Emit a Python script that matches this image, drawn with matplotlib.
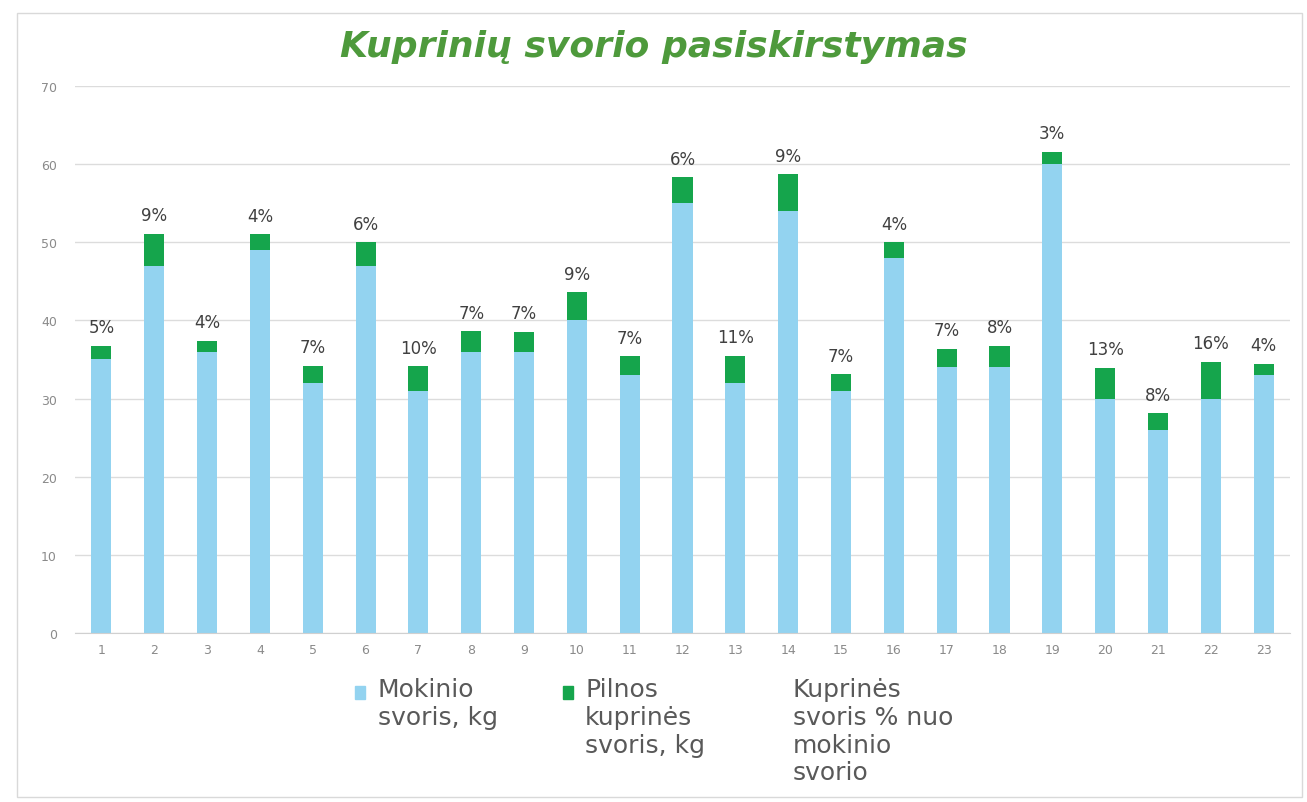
import matplotlib.pyplot as plt
from matplotlib.patches import Patch, Rectangle
from matplotlib.legend_handler import HandlerPatch

mokiniai = [str(i) for i in range(1, 24)]
mokinio_svoris = [35, 47, 36, 49, 32, 47, 31, 36, 36, 40, 33, 55, 32, 54, 31, 48, 34, 34, 60, 30, 26, 30, 33]
kuprines_svoris = [1.75, 4.1, 1.4, 2.0, 2.2, 3.0, 3.1, 2.6, 2.5, 3.6, 2.4, 3.3, 3.5, 4.7, 2.1, 2.0, 2.4, 2.7, 1.6, 3.9, 2.1, 4.7, 1.4]
procentai = ["5%", "9%", "4%", "4%", "7%", "6%", "10%", "7%", "7%", "9%", "7%", "6%", "11%",
             "9%", "7%", "4%", "7%", "8%", "3%", "13%", "8%", "16%", "4%"]

melyna = "#93d3f0"
zalia = "#15a54c"

fig = plt.figure(figsize=(13.07, 8.03), dpi=100)
ax = fig.add_axes([0.0574, 0.2105, 0.9296, 0.6812])

x = range(len(mokiniai))
ax.bar(x, mokinio_svoris, width=0.38, color=melyna, zorder=2)
ax.bar(x, kuprines_svoris, width=0.38, bottom=mokinio_svoris, color=zalia, zorder=2)

for i in x:
    ax.annotate(procentai[i], (i, mokinio_svoris[i] + kuprines_svoris[i]),
                xytext=(0, 7), textcoords="offset points", ha="center", va="bottom",
                fontsize=12, color="#404040")

ax.set_xlim(-0.5, len(mokiniai) - 0.5)
ax.set_ylim(0, 70)
ax.set_yticks(range(0, 71, 10))
ax.set_xticks(list(x))
ax.set_xticklabels(mokiniai)
ax.grid(axis="y", color="#dcdcdc", linewidth=1, zorder=0)
for s in ["top", "right", "left"]:
    ax.spines[s].set_visible(False)
ax.spines["bottom"].set_color("#d0d0d0")
ax.tick_params(axis="y", length=0, pad=13, labelsize=9, labelcolor="#8a8a8a")
ax.tick_params(axis="x", length=0, pad=7, labelsize=9, labelcolor="#8a8a8a")

fig.text(0.5, 0.9415, "Kuprinių svorio pasiskirstymas", ha="center", va="center",
         fontsize=26, fontweight="bold", fontstyle="italic", color="#4e9a3c")


# legendos kvadratelis prie pirmos teksto eilutes
def kvadratas(legend, orig_handle, xdescent, ydescent, width, height, fontsize):
    return Rectangle((-xdescent, -ydescent + 28), width, height)


handles = [Patch(color=melyna), Patch(color=zalia), Patch(color="none")]
labels = ["Mokinio\nsvoris, kg\n\n", "Pilnos\nkuprinės\nsvoris, kg\n",
          "Kuprinės\nsvoris % nuo\nmokinio\nsvorio"]
fig.legend(handles, labels, loc="upper left", bbox_to_anchor=(0.264, 0.168), ncol=3,
           frameon=False, labelcolor="#595959", handlelength=0.4,
           handleheight=0.4, handletextpad=0.5, columnspacing=2.6, borderaxespad=0,
           handler_map={Patch: HandlerPatch(patch_func=kvadratas)},
           prop={"size": 18})

fig.add_artist(Rectangle((0.013, 0.006), 0.983, 0.977, transform=fig.transFigure,
                         fill=False, edgecolor="#d9d9d9", linewidth=1))

fig.savefig("out.png", dpi=100)
